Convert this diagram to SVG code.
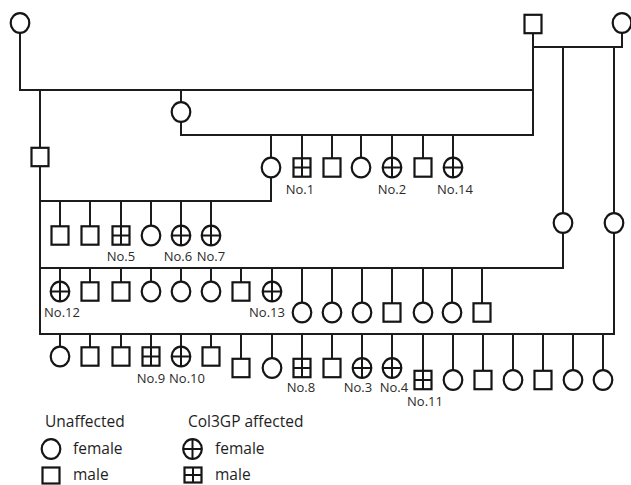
<svg xmlns="http://www.w3.org/2000/svg" xmlns:xlink="http://www.w3.org/1999/xlink" width="631" height="485" viewBox="0 0 631 485">
<style>
.s{fill:#fff;stroke:#151515;stroke-width:2.2}
.x{stroke:#151515;stroke-width:2;fill:none}
.c{stroke:#1c1c1c;stroke-width:2;fill:none}
.lb{font-family:"Open Sans","Noto Sans",sans-serif;font-size:13px;fill:#2a2a2a;text-anchor:middle}
.lg{font-family:"Open Sans","Noto Sans",sans-serif;font-size:15.5px;fill:#1e1e1e}
</style>
<defs>
<g id="F"><ellipse class="s" cx="0" cy="0" rx="9.3" ry="9.8"/></g>
<g id="M"><rect class="s" x="-8.5" y="-9.2" width="17" height="18.4"/></g>
<g id="FA"><ellipse class="s" cx="0" cy="0" rx="9.3" ry="9.8"/><path class="x" d="M-9.3 0H9.3M0 -9.8V9.8"/></g>
<g id="MA"><rect class="s" x="-8.5" y="-9.2" width="17" height="18.4"/><path class="x" d="M-8.5 0H8.5M0 -9.2V9.2"/></g>
</defs>
<g id="connectors" class="c">
<path d="M20 32.5V90H533M533 33V135H181V121.5M181 90V102.5"/>
<path d="M622 32.5V47H533M563 47V213.5M614 47V213.5"/>
<path d="M40 90V148M40 166V334H614V232.5M563 232.5V268H40M271 177V201H40"/>
<path d="M271 135V158M302 135V158.5M332 135V158.5M361 135V158M392 135V158M423 135V158.5M453 135V158"/>
<path d="M60 201V226.5M90 201V226.5M121 201V226.5M151 201V226M181 201V226M211 201V226"/>
<path d="M60 268V282M90 268V282.5M121 268V282.5M151 268V282M181 268V282M211 268V282M241 268V282.5M272 268V282"/>
<path d="M302 268V303M332 268V303M362 268V303M392 268V303.5M423 268V303M452 268V303M482 268V303.5"/>
<path d="M60 334V347M90 334V347.5M121 334V347.5M151 334V347.5M181 334V347M211 334V347.5"/>
<path d="M241 334V359M272 334V358.5M302 334V359M332 334V359M362 334V358.5M392 334V358.5"/>
<path d="M423 334V371M453 334V370.5M483 334V371M513 334V370.5M543 334V371M573 334V370.5M603 334V370.5"/>
</g>
<g id="gen1">
<g id="i1"><use href="#F" x="20" y="23"/></g>
<g id="i2"><use href="#M" x="533" y="24"/></g>
<g id="i3"><use href="#F" x="622" y="23"/></g>
</g>
<g id="gen2">
<g id="ii1"><use href="#M" x="40" y="157"/></g>
<g id="ii2"><use href="#F" x="181" y="112"/></g>
<g id="ii3"><use href="#F" x="563" y="223"/></g>
<g id="ii4"><use href="#F" x="614" y="223"/></g>
</g>
<g id="rowA">
<g id="a1"><use href="#F" x="271" y="167.5"/></g>
<g id="no1"><use href="#MA" x="302" y="167.5"/><text class="lb" x="300" y="194">No.1</text></g>
<g id="a3"><use href="#M" x="332" y="167.5"/></g>
<g id="a4"><use href="#F" x="361" y="167.5"/></g>
<g id="no2"><use href="#FA" x="392" y="167.5"/><text class="lb" x="392" y="194">No.2</text></g>
<g id="a6"><use href="#M" x="423" y="167.5"/></g>
<g id="no14"><use href="#FA" x="453" y="167.5"/><text class="lb" x="455" y="194">No.14</text></g>
</g>
<g id="rowB">
<g id="b1"><use href="#M" x="60" y="235.5"/></g>
<g id="b2"><use href="#M" x="90" y="235.5"/></g>
<g id="no5"><use href="#MA" x="121" y="235.5"/><text class="lb" x="121" y="261">No.5</text></g>
<g id="b4"><use href="#F" x="151" y="235.5"/></g>
<g id="no6"><use href="#FA" x="181" y="235.5"/><text class="lb" x="178" y="261">No.6</text></g>
<g id="no7"><use href="#FA" x="211" y="235.5"/><text class="lb" x="211" y="261">No.7</text></g>
</g>
<g id="rowC">
<g id="no12"><use href="#FA" x="60" y="291.5"/><text class="lb" x="62" y="317">No.12</text></g>
<g id="c2"><use href="#M" x="90" y="291.5"/></g>
<g id="c3"><use href="#M" x="121" y="291.5"/></g>
<g id="c4"><use href="#F" x="151" y="291.5"/></g>
<g id="c5"><use href="#F" x="181" y="291.5"/></g>
<g id="c6"><use href="#F" x="211" y="291.5"/></g>
<g id="c7"><use href="#M" x="241" y="291.5"/></g>
<g id="no13"><use href="#FA" x="272" y="291.5"/><text class="lb" x="267" y="317">No.13</text></g>
<g id="c9"><use href="#F" x="302" y="312.5"/></g>
<g id="c10"><use href="#F" x="332" y="312.5"/></g>
<g id="c11"><use href="#F" x="362" y="312.5"/></g>
<g id="c12"><use href="#M" x="392" y="312.5"/></g>
<g id="c13"><use href="#F" x="423" y="312.5"/></g>
<g id="c14"><use href="#F" x="452" y="312.5"/></g>
<g id="c15"><use href="#M" x="482" y="312.5"/></g>
</g>
<g id="rowD">
<g id="d1"><use href="#F" x="60" y="356.5"/></g>
<g id="d2"><use href="#M" x="90" y="356.5"/></g>
<g id="d3"><use href="#M" x="121" y="356.5"/></g>
<g id="no9"><use href="#MA" x="151" y="356.5"/><text class="lb" x="151" y="383">No.9</text></g>
<g id="no10"><use href="#FA" x="181" y="356.5"/><text class="lb" x="187" y="383">No.10</text></g>
<g id="d6"><use href="#M" x="211" y="356.5"/></g>
<g id="d7"><use href="#M" x="241" y="368"/></g>
<g id="d8"><use href="#F" x="272" y="368"/></g>
<g id="no8"><use href="#MA" x="302" y="368"/><text class="lb" x="301" y="392">No.8</text></g>
<g id="d10"><use href="#M" x="332" y="368"/></g>
<g id="no3"><use href="#FA" x="362" y="368"/><text class="lb" x="358" y="392">No.3</text></g>
<g id="no4"><use href="#FA" x="392" y="368"/><text class="lb" x="394" y="392">No.4</text></g>
<g id="no11"><use href="#MA" x="423" y="380"/><text class="lb" x="425" y="406">No.11</text></g>
<g id="d14"><use href="#F" x="453" y="380"/></g>
<g id="d15"><use href="#M" x="483" y="380"/></g>
<g id="d16"><use href="#F" x="513" y="380"/></g>
<g id="d17"><use href="#M" x="543" y="380"/></g>
<g id="d18"><use href="#F" x="573" y="380"/></g>
<g id="d19"><use href="#F" x="603" y="380"/></g>
</g>
<g id="legend">
<text class="lg" x="45" y="427">Unaffected</text>
<text class="lg" x="188" y="427">Col3GP affected</text>
<use href="#F" x="51" y="449"/>
<text class="lg" x="73" y="454">female</text>
<rect class="s" x="42.5" y="467.5" width="17" height="16"/>
<text class="lg" x="73" y="479.5">male</text>
<use href="#FA" x="192.5" y="449"/>
<text class="lg" x="215" y="454">female</text>
<g><rect class="s" x="184.5" y="467.5" width="17" height="15"/><path class="x" d="M184.5 475H201.5M193 467.5V482.5"/></g>
<text class="lg" x="215" y="479.5">male</text>
</g>
</svg>
